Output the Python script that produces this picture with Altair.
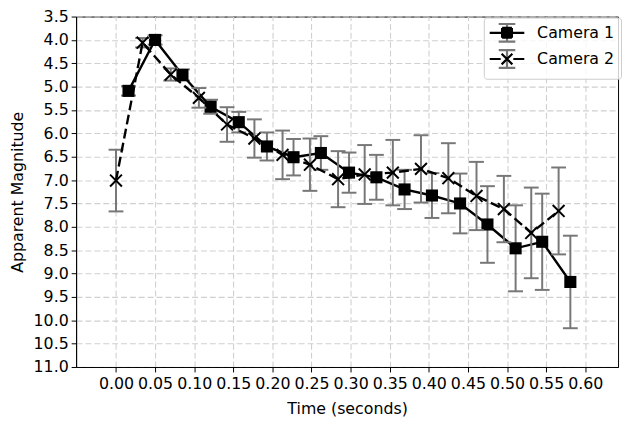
import altair as alt
import pandas as pd

series_names = ["Camera 1", "Camera 2"]

cam1_t = [0.016, 0.050, 0.085, 0.121, 0.157, 0.193, 0.227, 0.262, 0.298,
          0.333, 0.369, 0.404, 0.440, 0.475, 0.511, 0.545, 0.581]
cam1_mag = [5.09, 4.00, 4.75, 5.43, 5.76, 6.28, 6.51, 6.42, 6.84,
            6.94, 7.20, 7.33, 7.50, 7.95, 8.46, 8.32, 9.18]
cam1_err = [0.10, 0.10, 0.12, 0.15, 0.22, 0.30, 0.39, 0.36, 0.43,
            0.48, 0.42, 0.48, 0.64, 0.82, 0.92, 1.03, 0.99]

cam2_t = [0.000, 0.034, 0.070, 0.106, 0.142, 0.177, 0.213, 0.248, 0.284,
          0.318, 0.354, 0.390, 0.425, 0.461, 0.496, 0.531, 0.566]
cam2_mag = [7.01, 4.06, 4.74, 5.24, 5.81, 6.11, 6.46, 6.67, 6.98,
            6.88, 6.84, 6.76, 6.96, 7.34, 7.62, 8.13, 7.66]
cam2_err = [0.66, 0.10, 0.13, 0.21, 0.37, 0.41, 0.52, 0.56, 0.60,
            0.63, 0.70, 0.72, 0.75, 0.73, 0.71, 0.97, 0.93]

x_ticks = [0.00, 0.05, 0.10, 0.15, 0.20, 0.25, 0.30, 0.35, 0.40, 0.45, 0.50, 0.55, 0.60]
y_ticks = [3.5, 4.0, 4.5, 5.0, 5.5, 6.0, 6.5, 7.0, 7.5, 8.0, 8.5, 9.0, 9.5, 10.0, 10.5, 11.0]

rows = []
for name, ts, ms, es in [(series_names[0], cam1_t, cam1_mag, cam1_err),
                         (series_names[1], cam2_t, cam2_mag, cam2_err)]:
    for t, m, e in zip(ts, ms, es):
        rows.append({"series": name, "t": t, "mag": m, "lo": m - e, "hi": m + e})
df = pd.DataFrame(rows)

FONT = "DejaVu Sans"
GRID = dict(grid=True, gridDash=[6, 3], gridColor="#d0d0d0", gridWidth=1.1)
AX = dict(tickSize=5, tickColor="black", tickWidth=1, domainColor="black", domainWidth=1,
          labelFontSize=16, labelColor="black", labelFont=FONT,
          labelOverlap=False, labelFlush=False,
          titleFontSize=16, titleFont=FONT, titleFontWeight="normal", titleColor="black")

x_scale = alt.Scale(domain=[-0.051, 0.642], nice=False, zero=False)
y_scale = alt.Scale(domain=[3.5, 11.0], reverse=True, nice=False, zero=False)
x_axis = alt.Axis(values=x_ticks, format=".2f", labelPadding=4, titlePadding=9, **GRID, **AX)
y_axis = alt.Axis(values=y_ticks, format=".1f", labelPadding=3, titlePadding=8, **GRID, **AX)


def X():
    return alt.X("t:Q", scale=x_scale, axis=x_axis, title="Time (seconds)")


def Y(field):
    return alt.Y(f"{field}:Q", scale=y_scale, axis=y_axis, title="Apparent Magnitude")


ERR = "#777777"
XPATH = "M-1,-1L1,1M-1,1L1,-1"

layers = []
for name in series_names:
    sub = df[df["series"] == name]
    base = alt.Chart(sub)
    layers.append(base.mark_rule(color=ERR, strokeWidth=2, opacity=1).encode(
        x=X(), y=Y("lo"), y2="hi:Q"))
    layers.append(base.mark_tick(orient="horizontal", color=ERR, size=15, thickness=2, opacity=1).encode(
        x=X(), y=Y("lo")))
    layers.append(base.mark_tick(orient="horizontal", color=ERR, size=15, thickness=2, opacity=1).encode(
        x=X(), y=Y("hi")))
    if name == series_names[0]:
        layers.append(base.mark_line(color="black", strokeWidth=2.4).encode(x=X(), y=Y("mag")))
        layers.append(base.mark_point(shape="square", filled=True, size=150, color="black",
                                      opacity=1).encode(x=X(), y=Y("mag")))
    else:
        layers.append(base.mark_line(color="black", strokeWidth=2.4, strokeDash=[10, 4.5]).encode(
            x=X(), y=Y("mag")))
        layers.append(base.mark_point(shape=XPATH, filled=False, size=144, color="black",
                                      strokeWidth=2, opacity=1).encode(x=X(), y=Y("mag")))

# legend glyphs (1 unit = 8px); the filled square is drawn as dense strokes
EXT = "M-2.19,-1.2M2.19,1.2"
ERRGLYPH = EXT + "M0,-1.12L0,1.12M-1.05,-1.12L1.05,-1.12M-1.05,1.12L1.05,1.12"
SQ = "".join(f"M-0.62,{v:.2f}L0.62,{v:.2f}" for v in [-0.62, -0.42, -0.21, 0.0, 0.21, 0.42, 0.62])
SQ += "M-0.62,-0.62L-0.62,0.62M0.62,-0.62L0.62,0.62"
G1 = EXT + "M-2.19,0L2.19,0" + SQ
G2 = EXT + "M-2.19,0L-0.8,0M0.8,0L2.19,0M-0.68,-0.68L0.68,0.68M-0.68,0.68L0.68,-0.68"

LEG = dict(title=None, orient="none", legendX=413, legendY=1, padding=6, symbolSize=256,
           symbolStrokeWidth=2.2, symbolOpacity=1, symbolOffset=8, labelOffset=21,
           rowPadding=-2.5, labelFontSize=16, labelFont=FONT, labelColor="black")

legB = alt.Chart(df).mark_point(opacity=0, color=ERR).encode(
    x=X(), y=Y("mag"),
    shape=alt.Shape("series:N", scale=alt.Scale(domain=series_names, range=[ERRGLYPH, ERRGLYPH]),
                    legend=alt.Legend(symbolStrokeColor=ERR, symbolFillColor="transparent",
                                      labelOpacity=0, strokeColor="#cccccc",
                                      fillColor="rgba(255,255,255,0.8)", cornerRadius=3, **LEG)))
legA = alt.Chart(df).mark_point(opacity=0, color="black").encode(
    x=X(), y=Y("mag"),
    shape=alt.Shape("series:N", scale=alt.Scale(domain=series_names, range=[G1, G2]),
                    legend=alt.Legend(symbolStrokeColor="black", symbolFillColor="transparent", **LEG)))

layers.append(legB)
layers.append(legA)

chart = alt.layer(*layers).resolve_scale(shape="independent").properties(
    width=549, height=355,
    autosize=alt.AutoSizeParams(type="none"),
    padding={"left": 69, "top": 6, "right": 4, "bottom": 50},
).configure(font=FONT).configure_view(stroke="black", strokeWidth=1)

chart.save("out.html", embed_options={"renderer": "svg", "actions": False})
